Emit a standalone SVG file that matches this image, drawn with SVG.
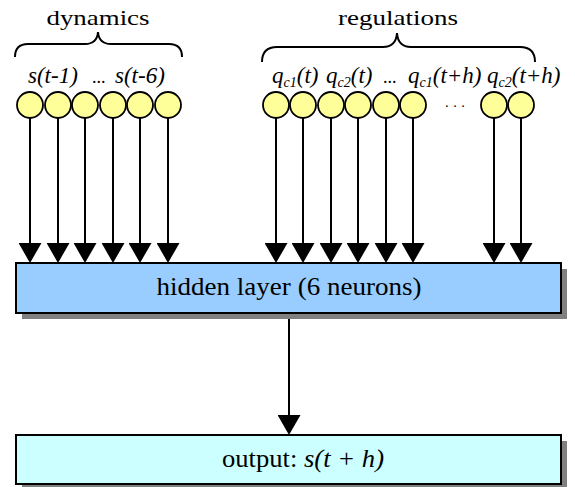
<svg xmlns="http://www.w3.org/2000/svg" width="575" height="487" viewBox="0 0 575 487" font-family="'Liberation Serif', 'Times New Roman', Times, serif">
<style>
.hd{font-size:22px}
.lbl{font-size:23px;font-style:italic}
.sub{font-size:14px}
.in{fill:#FFFF99;stroke:#000;stroke-width:1.8}
.ln{stroke:#000;stroke-width:2;fill:none}
.shadow{fill:#808080}
.box{stroke:#000;stroke-width:2}
</style>
<defs>
<marker id="ah" viewBox="0 0 20 23" refX="0" refY="11.5" markerWidth="20" markerHeight="23" markerUnits="userSpaceOnUse" orient="auto">
<path d="M0,0 L20,11.5 L0,23 Z" fill="#000"/>
</marker>
</defs>

<g id="labels">
<text class="hd" x="98" y="25" text-anchor="middle" textLength="103" lengthAdjust="spacingAndGlyphs">dynamics</text>
<text class="hd" x="398" y="25" text-anchor="middle" textLength="120" lengthAdjust="spacingAndGlyphs">regulations</text>
<path class="ln" d="M15,57 Q15,44 28,44 L85,44 Q97,44 98,32 Q99,44 111,44 L169,44 Q182,44 182,57"/>
<path class="ln" d="M262,62 Q262,47 277,47 L383,47 Q396,47 397,33 Q398,47 411,47 L520,47 Q535,47 535,62"/>
<text class="lbl" x="28" y="83">s(t-1)</text>
<text class="lbl" x="92" y="83" style="font-style:normal;font-size:18px">...</text>
<text class="lbl" x="115" y="83">s(t-6)</text>
<text class="lbl" x="272" y="83">q<tspan class="sub" dy="4">c1</tspan><tspan dy="-4">(t)</tspan></text>
<text class="lbl" x="326" y="83">q<tspan class="sub" dy="4">c2</tspan><tspan dy="-4">(t)</tspan></text>
<text class="lbl" x="383" y="83" style="font-style:normal;font-size:18px">...</text>
<text class="lbl" x="408" y="83">q<tspan class="sub" dy="4">c1</tspan><tspan dy="-4">(t+h)</tspan></text>
<text class="lbl" x="487" y="83">q<tspan class="sub" dy="4">c2</tspan><tspan dy="-4">(t+h)</tspan></text>
<text x="455" y="111" text-anchor="middle" style="font-size:14px">· · ·</text>
</g>

<g id="connectors">
<line class="ln" x1="30" y1="118" x2="30" y2="243" marker-end="url(#ah)"/>
<line class="ln" x1="58" y1="118" x2="58" y2="243" marker-end="url(#ah)"/>
<line class="ln" x1="85" y1="118" x2="85" y2="243" marker-end="url(#ah)"/>
<line class="ln" x1="113" y1="118" x2="113" y2="243" marker-end="url(#ah)"/>
<line class="ln" x1="140" y1="118" x2="140" y2="243" marker-end="url(#ah)"/>
<line class="ln" x1="168" y1="118" x2="168" y2="243" marker-end="url(#ah)"/>
<line class="ln" x1="276" y1="118" x2="276" y2="243" marker-end="url(#ah)"/>
<line class="ln" x1="303" y1="118" x2="303" y2="243" marker-end="url(#ah)"/>
<line class="ln" x1="331" y1="118" x2="331" y2="243" marker-end="url(#ah)"/>
<line class="ln" x1="358" y1="118" x2="358" y2="243" marker-end="url(#ah)"/>
<line class="ln" x1="386" y1="118" x2="386" y2="243" marker-end="url(#ah)"/>
<line class="ln" x1="413" y1="118" x2="413" y2="243" marker-end="url(#ah)"/>
<line class="ln" x1="494" y1="118" x2="494" y2="243" marker-end="url(#ah)"/>
<line class="ln" x1="521" y1="118" x2="521" y2="243" marker-end="url(#ah)"/>
<line class="ln" x1="289" y1="313" x2="289" y2="415" marker-end="url(#ah)"/>
</g>

<g id="inputs">
<circle class="in" cx="30" cy="105" r="13"/>
<circle class="in" cx="58" cy="105" r="13"/>
<circle class="in" cx="85" cy="105" r="13"/>
<circle class="in" cx="113" cy="105" r="13"/>
<circle class="in" cx="140" cy="105" r="13"/>
<circle class="in" cx="168" cy="105" r="13"/>
<circle class="in" cx="276" cy="105" r="13"/>
<circle class="in" cx="303" cy="105" r="13"/>
<circle class="in" cx="331" cy="105" r="13"/>
<circle class="in" cx="358" cy="105" r="13"/>
<circle class="in" cx="386" cy="105" r="13"/>
<circle class="in" cx="413" cy="105" r="13"/>
<circle class="in" cx="494" cy="105" r="13"/>
<circle class="in" cx="521" cy="105" r="13"/>
</g>

<g id="hidden">
<rect class="shadow" x="22" y="269" width="545" height="50"/>
<rect class="box" x="16" y="263" width="545" height="50" fill="#99CCFF"/>
<text x="289" y="295" text-anchor="middle" style="font-size:26px" textLength="265" lengthAdjust="spacingAndGlyphs">hidden layer (6 neurons)</text>
</g>

<g id="output">
<rect class="shadow" x="22" y="441" width="545" height="46"/>
<rect class="box" x="16" y="435" width="545" height="49" fill="#CCFFFF"/>
<text x="222" y="467" style="font-size:25px" textLength="162" lengthAdjust="spacingAndGlyphs">output: <tspan font-style="italic">s(t + h)</tspan></text>
</g>
</svg>
